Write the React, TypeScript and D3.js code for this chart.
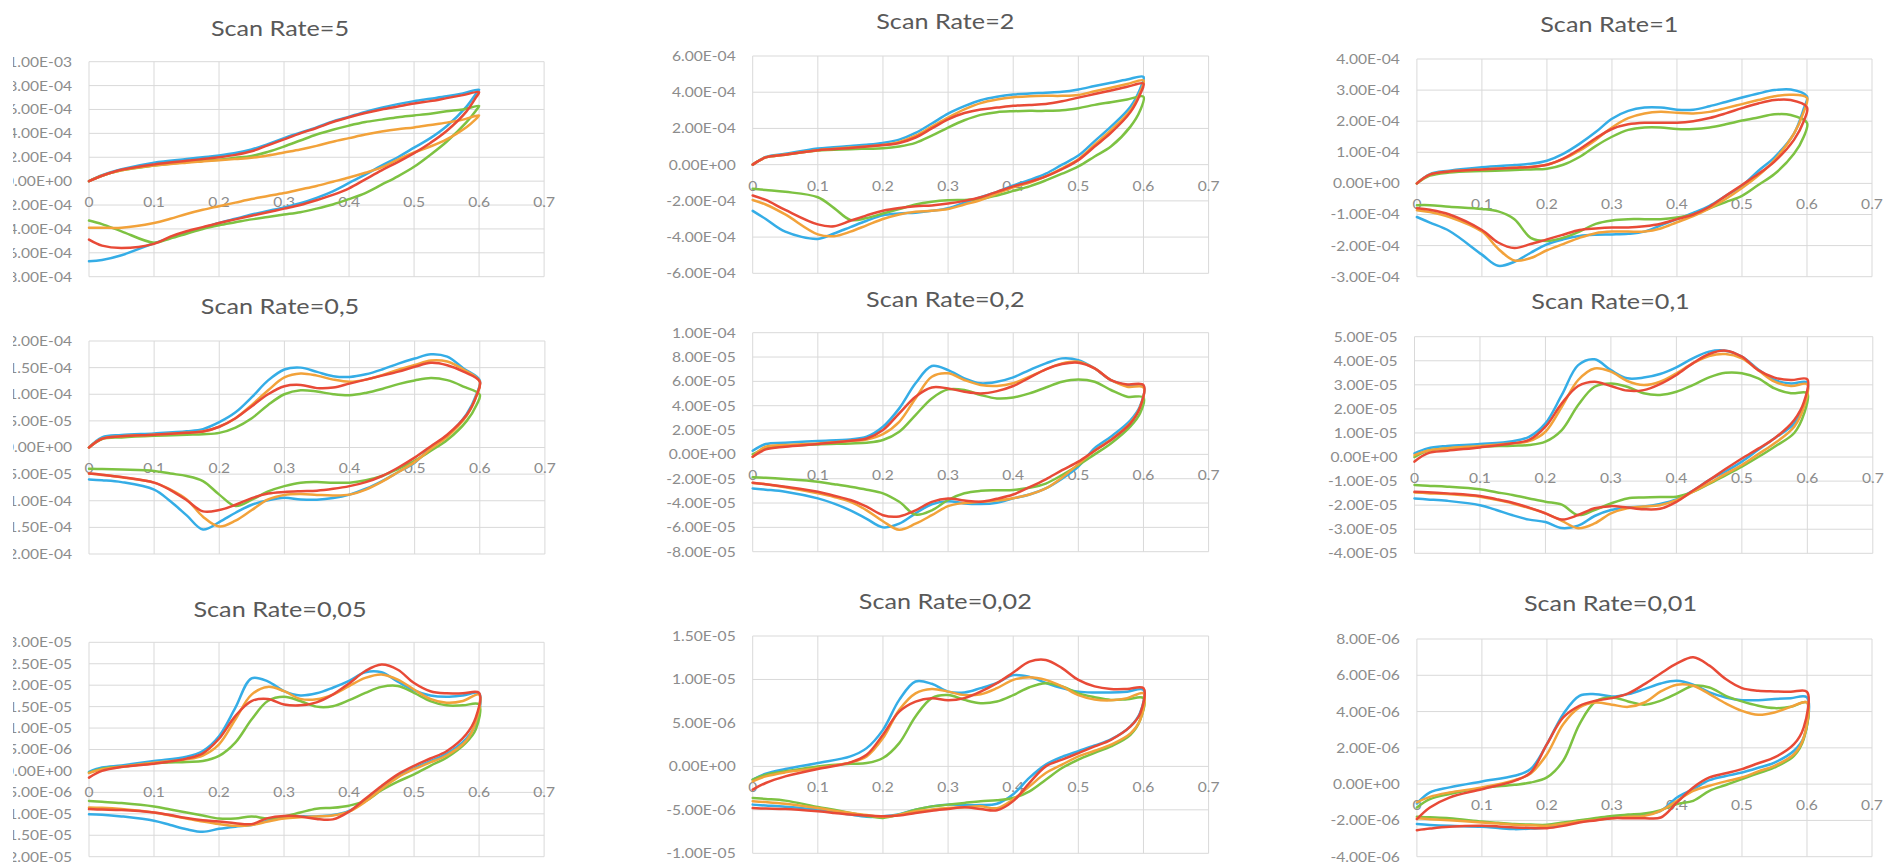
import React from 'react';
import * as d3 from 'd3';

// Potential grid (V) for the anodic (forward) and cathodic (reverse) sweeps
const FWD_E = [0, 0.02, 0.05, 0.1, 0.15, 0.175, 0.2, 0.225, 0.25, 0.275, 0.3, 0.325, 0.35, 0.375, 0.4, 0.425, 0.45, 0.475, 0.5, 0.525, 0.55, 0.575, 0.6];
const REV_E = [0.6, 0.595, 0.58, 0.55, 0.525, 0.5, 0.475, 0.45, 0.425, 0.4, 0.375, 0.35, 0.325, 0.3, 0.275, 0.25, 0.225, 0.2, 0.175, 0.15, 0.125, 0.1, 0.05, 0.02, 0];

const X_TICKS = [0, 0.1, 0.2, 0.3, 0.4, 0.5, 0.6, 0.7];

const SCAN_RATES = ['5', '2', '1', '0,5', '0,2', '0,1', '0,05', '0,02', '0,01'];
const Y_MIN = [-8e-4, -6e-4, -3e-4, -2e-4, -8e-5, -4e-5, -2e-5, -1e-5, -4e-6];
const Y_MAX = [1e-3, 6e-4, 4e-4, 2e-4, 1e-4, 5e-5, 3e-5, 1.5e-5, 8e-6];
const Y_STEP = [2e-4, 2e-4, 1e-4, 5e-5, 2e-5, 1e-5, 5e-6, 5e-6, 2e-6];
// current values below are listed in these units (A)
const UNIT = [1e-4, 1e-4, 1e-4, 1e-5, 1e-5, 1e-5, 1e-6, 1e-6, 1e-6];

// series order: blue, green, orange, red
const SERIES_COLORS = ['#35ade6', '#7dc242', '#f2a23a', '#e84a37'];

// Scan rate 5
const R5_FWD = [
  [0, 0.5, 1.0, 1.55, 1.85, 2.0, 2.15, 2.35, 2.65, 3.1, 3.6, 4.05, 4.5, 5.0, 5.4, 5.8, 6.15, 6.45, 6.7, 6.9, 7.1, 7.35, 7.65],
  [0, 0.45, 0.9, 1.3, 1.6, 1.7, 1.8, 1.95, 2.1, 2.45, 2.9, 3.4, 3.9, 4.3, 4.65, 4.95, 5.15, 5.35, 5.5, 5.65, 5.85, 6.0, 6.3],
  [0, 0.45, 0.9, 1.3, 1.55, 1.65, 1.75, 1.85, 1.95, 2.15, 2.4, 2.65, 2.95, 3.3, 3.6, 3.9, 4.15, 4.35, 4.5, 4.7, 4.9, 5.15, 5.5],
  [0, 0.45, 0.95, 1.4, 1.7, 1.85, 2.0, 2.2, 2.5, 3.0, 3.5, 4.0, 4.45, 4.95, 5.35, 5.7, 6.0, 6.25, 6.5, 6.7, 6.95, 7.2, 7.45],
];
const R5_REV = [
  [7.65, 7.3, 6.2, 4.6, 3.6, 2.8, 2.0, 1.3, 0.55, -0.15, -0.85, -1.4, -1.85, -2.2, -2.5, -2.8, -3.15, -3.5, -3.9, -4.3, -4.75, -5.2, -6.2, -6.6, -6.7],
  [6.3, 5.9, 4.9, 3.3, 2.2, 1.2, 0.4, -0.3, -1.0, -1.5, -1.95, -2.3, -2.6, -2.8, -3.0, -3.2, -3.45, -3.7, -4.0, -4.4, -4.8, -5.15, -4.2, -3.6, -3.3],
  [5.5, 5.2, 4.5, 3.5, 2.9, 2.4, 1.8, 1.15, 0.7, 0.3, -0.05, -0.4, -0.7, -1.0, -1.25, -1.5, -1.8, -2.1, -2.4, -2.75, -3.15, -3.5, -3.9, -3.9, -3.9],
  [7.45, 7.0, 5.8, 4.2, 3.2, 2.35, 1.6, 0.9, 0.15, -0.6, -1.15, -1.6, -2.0, -2.3, -2.6, -2.9, -3.2, -3.5, -3.85, -4.2, -4.65, -5.25, -5.6, -5.4, -4.9],
];

// Scan rate 2
const R2_FWD = [
  [0, 0.42, 0.6, 0.89, 1.03, 1.1, 1.2, 1.38, 1.75, 2.27, 2.82, 3.23, 3.56, 3.75, 3.87, 3.93, 3.97, 4.02, 4.15, 4.34, 4.52, 4.7, 4.85],
  [0, 0.4, 0.55, 0.78, 0.85, 0.88, 0.9, 1.0, 1.2, 1.6, 2.05, 2.45, 2.75, 2.9, 2.95, 2.97, 2.97, 3.0, 3.12, 3.3, 3.45, 3.6, 3.75],
  [0, 0.4, 0.55, 0.8, 0.95, 1.0, 1.08, 1.25, 1.6, 2.1, 2.6, 3.05, 3.4, 3.6, 3.72, 3.78, 3.8, 3.8, 3.85, 4.05, 4.25, 4.45, 4.65],
  [0, 0.4, 0.55, 0.8, 0.92, 1.0, 1.08, 1.2, 1.5, 2.0, 2.5, 2.85, 3.05, 3.15, 3.25, 3.3, 3.35, 3.5, 3.7, 3.9, 4.1, 4.3, 4.48],
];
const R2_REV = [
  [4.85, 4.2, 3.2, 2.1, 1.3, 0.5, 0.0, -0.5, -0.85, -1.15, -1.5, -1.8, -2.1, -2.4, -2.55, -2.65, -2.7, -2.8, -3.1, -3.45, -3.8, -4.1, -3.7, -3.0, -2.55],
  [3.75, 3.0, 2.1, 1.0, 0.45, -0.1, -0.5, -0.87, -1.2, -1.45, -1.7, -1.9, -1.95, -1.97, -2.05, -2.2, -2.45, -2.7, -2.95, -3.05, -2.4, -1.8, -1.5, -1.4, -1.33],
  [4.65, 4.0, 3.0, 1.9, 1.1, 0.3, -0.2, -0.65, -1.0, -1.25, -1.6, -1.95, -2.2, -2.45, -2.55, -2.6, -2.75, -3.0, -3.35, -3.7, -3.95, -3.85, -2.75, -2.2, -1.95],
  [4.48, 3.9, 2.9, 1.75, 1.0, 0.25, -0.25, -0.65, -0.95, -1.2, -1.5, -1.8, -2.0, -2.15, -2.25, -2.3, -2.4, -2.55, -2.8, -3.1, -3.4, -3.3, -2.5, -1.95, -1.7],
];

// Scan rate 1
const R1_FWD = [
  [0, 0.3, 0.41, 0.52, 0.59, 0.63, 0.73, 0.95, 1.27, 1.65, 2.08, 2.33, 2.44, 2.44, 2.37, 2.37, 2.48, 2.62, 2.76, 2.89, 3.0, 3.02, 2.8],
  [0, 0.25, 0.35, 0.4, 0.43, 0.45, 0.47, 0.6, 0.85, 1.2, 1.5, 1.72, 1.8, 1.8, 1.75, 1.75, 1.8, 1.9, 2.02, 2.12, 2.22, 2.2, 1.95],
  [0, 0.28, 0.38, 0.45, 0.5, 0.53, 0.6, 0.78, 1.05, 1.4, 1.8, 2.1, 2.25, 2.3, 2.27, 2.25, 2.3, 2.42, 2.55, 2.68, 2.8, 2.85, 2.75],
  [0, 0.28, 0.38, 0.45, 0.5, 0.53, 0.6, 0.8, 1.1, 1.45, 1.75, 1.9, 1.95, 1.95, 1.95, 2.0, 2.1, 2.25, 2.42, 2.57, 2.68, 2.68, 2.45],
];
const R1_REV = [
  [2.8, 2.4, 1.6, 0.84, 0.4, -0.08, -0.4, -0.72, -0.95, -1.15, -1.35, -1.55, -1.62, -1.64, -1.65, -1.69, -1.8, -1.96, -2.23, -2.52, -2.65, -2.29, -1.53, -1.26, -1.08],
  [1.95, 1.5, 0.95, 0.3, -0.05, -0.4, -0.6, -0.8, -1.0, -1.1, -1.15, -1.15, -1.15, -1.19, -1.3, -1.55, -1.75, -1.85, -1.75, -1.15, -0.9, -0.82, -0.75, -0.7, -0.7],
  [2.75, 2.3, 1.6, 0.75, 0.25, -0.15, -0.5, -0.8, -1.05, -1.25, -1.45, -1.55, -1.55, -1.55, -1.6, -1.75, -1.95, -2.15, -2.4, -2.48, -2.1, -1.55, -1.08, -0.92, -0.86],
  [2.45, 2.0, 1.4, 0.7, 0.3, -0.05, -0.4, -0.75, -1.0, -1.15, -1.3, -1.38, -1.42, -1.42, -1.45, -1.5, -1.65, -1.8, -1.95, -2.08, -1.9, -1.5, -1.0, -0.85, -0.8],
];

// Scan rate 0,5
const R05_FWD = [
  [0, 1.9, 2.35, 2.65, 3.05, 3.45, 4.75, 6.6, 9.45, 12.6, 14.65, 15.0, 14.2, 13.4, 13.25, 13.75, 14.65, 15.75, 16.7, 17.5, 17.05, 14.85, 12.6],
  [0, 1.6, 1.9, 2.2, 2.4, 2.5, 2.75, 3.75, 5.5, 8.0, 10.0, 10.75, 10.5, 10.0, 9.8, 10.25, 11.0, 11.9, 12.6, 13.05, 12.65, 11.45, 9.9],
  [0, 1.65, 2.1, 2.4, 2.75, 3.0, 3.9, 5.5, 8.0, 10.75, 13.15, 13.9, 13.5, 12.75, 12.35, 12.75, 13.6, 14.6, 15.5, 16.35, 16.15, 14.65, 12.4],
  [0, 1.65, 2.1, 2.4, 2.75, 3.0, 3.9, 5.5, 7.75, 10.0, 11.5, 11.75, 11.15, 11.25, 12.0, 12.75, 13.5, 14.25, 15.15, 15.9, 15.45, 14.25, 12.4],
];
const R05_REV = [
  [12.6, 10.0, 6.3, 2.2, 0.0, -2.85, -4.6, -6.3, -7.75, -8.85, -9.5, -9.8, -9.75, -9.45, -9.9, -10.75, -12.25, -14.0, -15.4, -12.75, -10.1, -7.9, -6.5, -6.15, -6.0],
  [9.9, 8.0, 5.0, 1.4, -0.6, -2.5, -4.0, -5.35, -6.15, -6.6, -6.6, -6.5, -6.6, -7.25, -8.25, -9.8, -11.0, -8.85, -6.3, -5.35, -4.9, -4.4, -4.15, -4.05, -4.0],
  [12.4, 9.75, 6.0, 2.0, -0.25, -2.75, -4.6, -6.4, -7.9, -8.85, -9.0, -8.9, -8.75, -8.9, -9.75, -11.75, -13.75, -14.85, -13.0, -9.75, -7.9, -6.6, -5.6, -5.15, -4.9],
  [12.4, 9.75, 6.15, 2.4, 0.25, -1.9, -3.75, -5.35, -6.5, -7.25, -7.75, -8.1, -8.2, -8.35, -8.65, -9.5, -10.75, -11.75, -12.0, -9.9, -8.0, -6.6, -5.55, -5.1, -4.9],
];

// Scan rate 0,2
const R02_FWD = [
  [0.3, 0.85, 0.96, 1.1, 1.23, 1.45, 2.27, 3.78, 5.84, 7.26, 6.93, 6.25, 5.84, 5.97, 6.33, 6.93, 7.48, 7.89, 7.75, 7.07, 6.11, 5.7, 5.62],
  [0.0, 0.49, 0.68, 0.82, 0.9, 0.96, 1.18, 1.86, 3.23, 4.6, 5.34, 5.29, 4.88, 4.6, 4.68, 5.01, 5.5, 5.97, 6.16, 5.97, 5.29, 4.74, 4.68],
  [-0.2, 0.63, 0.77, 0.9, 1.1, 1.23, 1.67, 2.68, 4.6, 6.38, 6.66, 6.11, 5.7, 5.62, 5.84, 6.38, 6.99, 7.48, 7.62, 7.07, 6.11, 5.56, 5.5],
  [-0.2, 0.41, 0.63, 0.85, 1.12, 1.3, 2.0, 3.37, 4.74, 5.5, 5.42, 5.15, 5.01, 5.2, 5.62, 6.3, 6.99, 7.42, 7.53, 7.07, 6.11, 5.75, 5.7],
];
const R02_REV = [
  [5.62, 4.0, 2.8, 1.45, 0.5, -1.0, -2.0, -2.8, -3.3, -3.62, -3.97, -4.08, -4.03, -3.85, -4.1, -4.85, -5.7, -6.0, -5.3, -4.6, -4.05, -3.62, -3.07, -2.9, -2.8],
  [4.68, 3.4, 2.3, 0.9, 0.0, -0.9, -1.7, -2.4, -2.75, -2.93, -2.95, -3.0, -3.2, -3.75, -4.6, -4.95, -3.9, -3.2, -2.9, -2.66, -2.45, -2.25, -2.03, -1.93, -1.89],
  [5.5, 3.9, 2.6, 1.2, 0.3, -0.8, -1.9, -2.8, -3.3, -3.6, -3.8, -3.9, -4.0, -4.25, -5.0, -5.7, -6.2, -5.5, -4.6, -3.9, -3.5, -3.2, -2.7, -2.45, -2.35],
  [5.7, 3.9, 2.55, 1.18, 0.3, -0.6, -1.3, -2.05, -2.7, -3.3, -3.65, -3.9, -3.8, -3.62, -3.9, -4.6, -5.1, -5.0, -4.3, -3.75, -3.4, -3.07, -2.66, -2.45, -2.33],
];

// Scan rate 0,1
const R01_FWD = [
  [0.15, 0.36, 0.46, 0.54, 0.66, 0.84, 1.4, 2.58, 3.82, 4.06, 3.61, 3.27, 3.3, 3.45, 3.73, 4.1, 4.38, 4.42, 4.17, 3.64, 3.2, 3.06, 3.09],
  [0.0, 0.26, 0.36, 0.43, 0.47, 0.5, 0.64, 1.12, 2.16, 2.92, 3.06, 2.92, 2.65, 2.58, 2.71, 2.99, 3.31, 3.5, 3.48, 3.27, 2.85, 2.65, 2.65],
  [0.08, 0.26, 0.36, 0.46, 0.57, 0.66, 1.05, 2.09, 3.2, 3.68, 3.55, 3.16, 2.99, 3.13, 3.48, 3.89, 4.2, 4.28, 4.1, 3.61, 3.13, 2.95, 3.02],
  [-0.19, 0.15, 0.26, 0.4, 0.57, 0.71, 1.26, 2.23, 2.95, 3.13, 2.95, 2.76, 2.78, 3.03, 3.41, 3.89, 4.28, 4.42, 4.17, 3.61, 3.3, 3.2, 3.23],
];
const R01_REV = [
  [3.09, 2.2, 1.4, 0.78, 0.3, -0.19, -0.6, -0.96, -1.4, -1.76, -1.95, -2.06, -2.1, -2.2, -2.45, -2.85, -2.95, -2.7, -2.6, -2.42, -2.2, -2.0, -1.82, -1.76, -1.72],
  [2.65, 1.8, 1.0, 0.43, 0.0, -0.4, -0.76, -1.12, -1.45, -1.65, -1.66, -1.68, -1.72, -1.93, -2.2, -2.41, -1.98, -1.86, -1.72, -1.58, -1.46, -1.34, -1.23, -1.19, -1.16],
  [3.02, 2.1, 1.26, 0.57, 0.12, -0.33, -0.7, -1.09, -1.45, -1.79, -2.0, -2.06, -2.13, -2.34, -2.76, -2.96, -2.65, -2.34, -2.12, -1.93, -1.78, -1.65, -1.54, -1.5, -1.47],
  [3.23, 2.3, 1.54, 0.78, 0.35, -0.06, -0.5, -0.96, -1.4, -1.86, -2.15, -2.17, -2.1, -2.04, -2.13, -2.41, -2.6, -2.34, -2.1, -1.9, -1.75, -1.62, -1.51, -1.46, -1.44],
];

// Scan rate 0,05
const R005_FWD = [
  [-0.2, 0.78, 1.3, 2.3, 3.3, 4.65, 8.1, 14.7, 21.6, 20.9, 18.6, 17.6, 18.1, 19.4, 21.0, 23.0, 23.0, 20.8, 18.8, 17.6, 17.3, 17.6, 18.1],
  [-0.4, 0.54, 1.0, 1.8, 2.1, 2.3, 3.5, 6.6, 12.0, 16.3, 17.3, 16.3, 15.0, 15.1, 16.5, 18.2, 19.6, 19.8, 18.2, 16.3, 15.3, 15.3, 15.5],
  [-0.5, 0.4, 1.0, 1.9, 2.7, 3.6, 6.2, 12.0, 17.8, 19.6, 18.6, 16.8, 16.7, 17.8, 19.8, 21.7, 22.5, 21.3, 19.0, 16.8, 15.9, 16.3, 17.8],
  [-1.55, 0.0, 0.93, 1.7, 2.87, 4.1, 7.5, 12.8, 16.3, 16.8, 15.5, 15.3, 16.0, 17.8, 20.4, 23.3, 24.8, 23.6, 20.5, 18.6, 18.1, 18.1, 18.2],
];
const R005_REV = [
  [18.1, 11.0, 7.5, 4.0, 2.3, 0.6, -1.3, -3.9, -7.0, -9.3, -10.3, -10.6, -10.6, -10.9, -11.6, -12.6, -13.0, -13.5, -14.2, -13.6, -12.6, -11.6, -10.6, -10.2, -10.1],
  [15.5, 9.7, 6.6, 3.1, 1.2, -0.8, -2.5, -4.5, -7.0, -8.1, -8.6, -8.8, -9.7, -10.6, -11.1, -10.6, -11.1, -11.1, -10.4, -9.7, -9.0, -8.3, -7.5, -7.2, -7.0],
  [17.8, 11.5, 7.0, 3.6, 2.0, 0.4, -1.5, -4.2, -7.2, -9.5, -10.4, -10.6, -10.8, -11.1, -11.8, -12.6, -12.8, -12.4, -11.8, -11.1, -10.4, -9.7, -8.9, -8.6, -8.5],
  [18.2, 12.5, 8.5, 4.6, 2.9, 1.2, -0.8, -3.5, -6.5, -9.5, -11.3, -11.2, -10.6, -10.5, -11.0, -12.4, -12.2, -11.8, -11.5, -11.0, -10.3, -9.7, -9.1, -9.0, -8.9],
];

// Scan rate 0,02
const R002_FWD = [
  [-1.53, -0.84, -0.31, 0.38, 1.15, 2.1, 4.2, 7.65, 9.76, 9.5, 8.6, 8.5, 9.0, 9.6, 10.5, 10.3, 9.6, 9.0, 8.6, 8.5, 8.5, 8.6, 8.8],
  [-1.53, -0.96, -0.57, 0.0, 0.3, 0.38, 0.96, 2.68, 5.74, 7.85, 8.2, 7.65, 7.27, 7.46, 8.2, 9.1, 9.57, 9.2, 8.4, 7.96, 7.65, 7.73, 7.85],
  [-1.72, -1.15, -0.69, -0.19, 0.46, 1.15, 3.25, 6.5, 8.4, 8.9, 8.6, 8.2, 8.3, 9.0, 9.95, 10.25, 9.95, 9.2, 8.2, 7.7, 7.6, 7.85, 8.4],
  [-2.68, -1.91, -1.15, -0.31, 0.46, 1.34, 3.64, 6.3, 7.46, 7.85, 7.6, 7.85, 8.6, 9.57, 10.8, 12.05, 12.25, 11.3, 9.95, 9.2, 8.9, 8.9, 9.0],
];
const R002_REV = [
  [8.8, 6.2, 4.6, 3.1, 2.4, 1.75, 1.1, 0.2, -1.3, -3.2, -4.3, -4.45, -4.45, -4.4, -4.6, -4.98, -5.5, -5.75, -5.8, -5.55, -5.25, -4.98, -4.65, -4.5, -4.4],
  [7.85, 5.36, 3.64, 2.3, 1.55, 0.77, -0.19, -1.53, -2.87, -3.64, -3.9, -4.0, -4.2, -4.4, -4.6, -4.98, -5.55, -5.93, -5.7, -5.36, -5.0, -4.67, -3.94, -3.75, -3.64],
  [8.4, 5.36, 3.8, 2.5, 1.8, 1.15, 0.2, -0.77, -2.3, -3.8, -4.8, -4.6, -4.7, -4.78, -4.95, -5.17, -5.55, -5.8, -5.6, -5.36, -5.1, -4.8, -4.3, -4.1, -4.0],
  [9.0, 6.1, 4.6, 3.06, 2.3, 1.53, 0.77, 0.0, -1.9, -4.0, -5.05, -4.9, -4.7, -4.9, -5.1, -5.36, -5.66, -5.74, -5.65, -5.55, -5.35, -5.17, -4.9, -4.85, -4.8],
];

// Scan rate 0,01
const R001_FWD = [
  [-1.07, -0.46, -0.18, 0.15, 0.46, 0.83, 2.2, 3.86, 4.87, 4.96, 4.83, 4.96, 5.24, 5.55, 5.7, 5.48, 5.06, 4.78, 4.63, 4.63, 4.69, 4.74, 4.78],
  [-1.29, -0.83, -0.55, -0.22, -0.04, 0.09, 0.37, 1.29, 3.3, 4.56, 4.78, 4.56, 4.38, 4.6, 5.0, 5.42, 5.33, 4.87, 4.56, 4.32, 4.19, 4.26, 4.5],
  [-1.0, -0.7, -0.46, -0.18, 0.22, 0.59, 1.65, 3.3, 4.23, 4.5, 4.38, 4.26, 4.5, 5.11, 5.48, 5.42, 4.96, 4.45, 4.04, 3.82, 3.95, 4.26, 4.5],
  [-1.93, -1.29, -0.74, -0.28, 0.18, 0.64, 2.2, 3.68, 4.32, 4.6, 4.74, 5.0, 5.51, 6.1, 6.65, 6.99, 6.53, 5.79, 5.29, 5.15, 5.11, 5.09, 5.09],
];
const R001_REV = [
  [4.78, 2.57, 1.84, 1.19, 0.9, 0.64, 0.45, 0.22, -0.28, -0.74, -1.47, -1.65, -1.75, -1.84, -1.93, -2.02, -2.2, -2.39, -2.45, -2.48, -2.42, -2.35, -2.3, -2.25, -2.2],
  [4.5, 2.48, 1.56, 0.92, 0.6, 0.28, -0.05, -0.37, -0.92, -1.1, -1.43, -1.62, -1.68, -1.75, -1.87, -1.99, -2.12, -2.24, -2.23, -2.2, -2.13, -2.06, -1.88, -1.83, -1.8],
  [4.5, 2.57, 1.65, 1.01, 0.7, 0.37, 0.15, -0.09, -0.37, -0.92, -1.47, -1.75, -1.8, -1.88, -1.97, -2.06, -2.18, -2.3, -2.27, -2.24, -2.17, -2.11, -1.99, -1.93, -1.88],
  [5.09, 3.13, 2.2, 1.47, 1.15, 0.83, 0.6, 0.37, -0.18, -1.01, -1.84, -1.88, -1.88, -1.88, -2.0, -2.11, -2.3, -2.43, -2.42, -2.39, -2.33, -2.3, -2.35, -2.45, -2.54],
];

const PANEL_FWD = [R5_FWD, R2_FWD, R1_FWD, R05_FWD, R02_FWD, R01_FWD, R005_FWD, R002_FWD, R001_FWD];
const PANEL_REV = [R5_REV, R2_REV, R1_REV, R05_REV, R02_REV, R01_REV, R005_REV, R002_REV, R001_REV];

// Plot-area frames and title anchors on the page
const FRAMES = [
  { l: 89, r: 544.1, t: 61.7, b: 276.7, tx: 280, ty: 28 },
  { l: 752.7, r: 1208.6, t: 56, b: 273.3, tx: 945.3, ty: 21 },
  { l: 1416.9, r: 1872, t: 59, b: 276.7, tx: 1609.3, ty: 24 },
  { l: 89, r: 544.9, t: 341, b: 554, tx: 280, ty: 306 },
  { l: 752.7, r: 1208.6, t: 332.7, b: 551.7, tx: 945.3, ty: 299 },
  { l: 1414.5, r: 1872.8, t: 336.7, b: 553.3, tx: 1610.5, ty: 301 },
  { l: 89, r: 544.1, t: 642.3, b: 856.7, tx: 280, ty: 609 },
  { l: 752.7, r: 1208.6, t: 636, b: 853.3, tx: 945.3, ty: 601 },
  { l: 1416.9, r: 1872, t: 639, b: 856.7, tx: 1610.5, ty: 603 },
];

// the page's visible area starts a little to the right of its left edge
const VIEW_LEFT = 13;

const FONT = "Lato, 'Open Sans', sans-serif";
const TEXT_STRETCH = 1.2;

function sci(v: number): string {
  const val = Math.abs(v) < 1e-15 ? 0 : v;
  const [m, e] = val.toExponential(2).split('e');
  const sign = e[0];
  const digits = e.slice(1).padStart(2, '0');
  return `${m}E${sign}${digits}`;
}

function Label({ x, y, anchor, size, color, children }: { x: number; y: number; anchor: string; size: number; color: string; children: React.ReactNode }) {
  return (
    <g transform={`translate(${x},${y}) scale(${TEXT_STRETCH},1)`}>
      <text
        x={0}
        y={0}
        textAnchor={anchor}
        dominantBaseline="central"
        fontFamily={FONT}
        fontSize={size}
        fill={color}
      >
        {children}
      </text>
    </g>
  );
}

function Panel({ i }: { i: number }) {
  const f = FRAMES[i];
  const x = d3.scaleLinear().domain([0, 0.7]).range([f.l, f.r]);
  const y = d3.scaleLinear().domain([Y_MIN[i], Y_MAX[i]]).range([f.b, f.t]);
  const n = Math.round((Y_MAX[i] - Y_MIN[i]) / Y_STEP[i]);
  const yTicks = d3.range(n + 1).map((k) => Y_MIN[i] + k * Y_STEP[i]);
  const line = d3
    .line<[number, number]>()
    .x((d) => x(d[0]))
    .y((d) => y(d[1]))
    .curve(d3.curveCatmullRom.alpha(0.5));
  const unit = UNIT[i];
  const y0 = y(0);

  return (
    <g>
      <Label x={f.tx} y={f.ty} anchor="middle" size={21} color="#595959">
        {`Scan Rate=${SCAN_RATES[i]}`}
      </Label>
      {X_TICKS.map((t) => (
        <line key={`vx${t}`} x1={x(t)} x2={x(t)} y1={f.t} y2={f.b} stroke="#d9d9d9" strokeWidth={1} />
      ))}
      {yTicks.map((t, k) => (
        <line key={`hy${k}`} x1={f.l} x2={f.r} y1={y(t)} y2={y(t)} stroke="#d9d9d9" strokeWidth={1} />
      ))}
      <g clipPath="url(#view-clip)">
        {yTicks.map((t, k) => (
          <Label key={`ly${k}`} x={f.l - 17} y={y(t)} anchor="end" size={13} color="#8c8c8c">
            {sci(t)}
          </Label>
        ))}
      </g>
      {X_TICKS.map((t) => (
        <Label key={`lx${t}`} x={x(t)} y={y0 + 21} anchor="middle" size={13} color="#8c8c8c">
          {String(Math.round(t * 10) / 10)}
        </Label>
      ))}
      {SERIES_COLORS.map((c, s) => {
        const pts: [number, number][] = [
          ...FWD_E.map((e, k) => [e, PANEL_FWD[i][s][k] * unit] as [number, number]),
          ...REV_E.slice(1).map((e, k) => [e, PANEL_REV[i][s][k + 1] * unit] as [number, number]),
        ];
        return (
          <path
            key={`s${s}`}
            d={line(pts) ?? ''}
            fill="none"
            stroke={c}
            strokeWidth={2.5}
            strokeLinejoin="round"
            strokeLinecap="round"
          />
        );
      })}
    </g>
  );
}

export default function App() {
  return (
    <svg
      width={1886}
      height={865}
      style={{ position: 'absolute', left: 0, top: 0, background: '#ffffff' }}
    >
      <defs>
        <clipPath id="view-clip">
          <rect x={VIEW_LEFT} y={0} width={1886 - VIEW_LEFT} height={865} />
        </clipPath>
      </defs>
      <rect x={0} y={0} width={1886} height={865} fill="#ffffff" />
      {FRAMES.map((_, i) => (
        <Panel key={i} i={i} />
      ))}
    </svg>
  );
}
